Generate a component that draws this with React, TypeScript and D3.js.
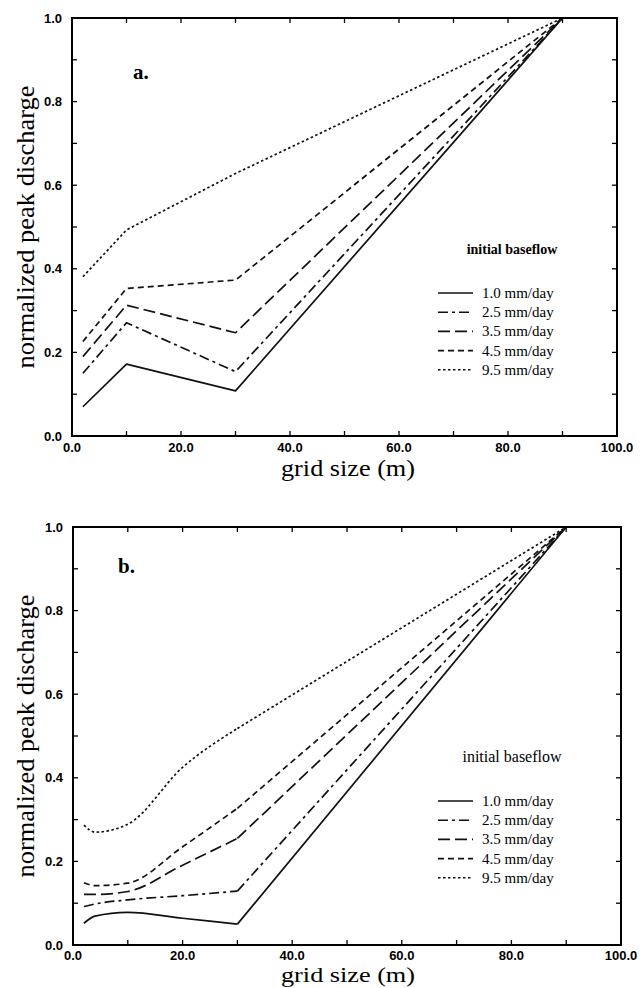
import React from "react";
import * as d3 from "d3";

// ---- data ----
const seriesLabels = ["1.0 mm/day", "2.5 mm/day", "3.5 mm/day", "4.5 mm/day", "9.5 mm/day"];
const xTickLabels = ["0.0", "20.0", "40.0", "60.0", "80.0", "100.0"];
const yTickLabels = ["0.0", "0.2", "0.4", "0.6", "0.8", "1.0"];

// panel a: grid sizes and normalized peak discharge
const gridA = [2, 10, 30, 90, 100];
const a_1_0 = [0.070, 0.172, 0.108, 1.0, 1.0];
const a_2_5 = [0.150, 0.271, 0.154, 1.0, 1.0];
const a_3_5 = [0.190, 0.313, 0.247, 1.0, 1.0];
const a_4_5 = [0.226, 0.353, 0.373, 1.0, 1.0];
const a_9_5 = [0.381, 0.493, 0.628, 1.0, 1.0];

// panel b
const gridB = [2, 4, 10, 20, 30, 90, 100];
const b_1_0 = [0.052, 0.069, 0.078, 0.064, 0.050, 1.0, 1.0];
const b_2_5 = [0.092, 0.098, 0.108, 0.118, 0.129, 1.0, 1.0];
const b_3_5 = [0.121, 0.121, 0.128, 0.191, 0.255, 1.0, 1.0];
const b_4_5 = [0.149, 0.142, 0.148, 0.235, 0.327, 1.0, 1.0];
const b_9_5 = [0.287, 0.270, 0.289, 0.425, 0.518, 1.0, 1.0];

const dashes = ["none", "10,4,3,4", "12,5", "6,4", "2.5,2.5"];

type Panel = {
  label: string;
  x0: number; x1: number; yTop: number; yBot: number;
  xs: number[];
  series: number[][];
  smooth: boolean;
  legendTitleBold: boolean;
  legendTitleY: number;
  legendRowY: number;
  labelX: number; labelY: number;
  xTitleY: number; xTitleSize: number; xTickDy: number;
};

const panels: Panel[] = [
  {
    label: "a.", x0: 72, x1: 617, yTop: 18, yBot: 436,
    xs: gridA, series: [a_1_0, a_2_5, a_3_5, a_4_5, a_9_5], smooth: false,
    legendTitleBold: true, legendTitleY: 254, legendRowY: 293,
    labelX: 133, labelY: 79, xTitleY: 476, xTitleSize: 23, xTickDy: 16,
  },
  {
    label: "b.", x0: 73, x1: 621, yTop: 527, yBot: 945,
    xs: gridB, series: [b_1_0, b_2_5, b_3_5, b_4_5, b_9_5], smooth: true,
    legendTitleBold: false, legendTitleY: 762, legendRowY: 801,
    labelX: 118, labelY: 573, xTitleY: 982, xTitleSize: 21, xTickDy: 15,
  },
];

const sans = "'Liberation Sans', Arial, sans-serif";
const serif = "'Liberation Serif', 'Times New Roman', serif";

function ChartPanel({ p }: { p: Panel }) {
  const x = d3.scaleLinear().domain([0, 100]).range([p.x0, p.x1]);
  const y = d3.scaleLinear().domain([0, 1]).range([p.yBot, p.yTop]);
  const xMinor = d3.range(0, 101, 10);
  const yMinor = d3.range(0, 1.0001, 0.1);
  const tl = 5;

  const paths: { d: string; i: number }[] = [];
  p.series.forEach((vals, i) => {
    const pts: [number, number][] = p.xs.map((xv, k) => [x(xv), y(vals[k])]);
    if (p.smooth) {
      const k30 = p.xs.indexOf(30);
      const smoothPts = pts.slice(0, k30 + 1);
      const linPts = pts.slice(k30);
      const ls = d3.line().curve(d3.curveMonotoneX)(smoothPts) || "";
      const ll = d3.line()(linPts) || "";
      paths.push({ d: ls, i });
      paths.push({ d: ll, i });
    } else {
      paths.push({ d: d3.line()(pts) || "", i });
    }
  });

  const legX0 = 438, legX1 = 473, legTextX = 482, rowGap = 19.2;
  const cy = (p.yTop + p.yBot) / 2;

  return (
    <g>
      {/* data lines */}
      {paths.map((pp, j) => (
        <path key={j} d={pp.d} fill="none" stroke="#111" strokeWidth={1.7}
          strokeDasharray={dashes[pp.i]} strokeLinejoin="round" />
      ))}
      {/* frame */}
      <rect x={p.x0} y={p.yTop} width={p.x1 - p.x0} height={p.yBot - p.yTop}
        fill="none" stroke="#000" strokeWidth={2} />
      {/* ticks */}
      {xMinor.map((v) => (
        <g key={"xt" + v}>
          <line x1={x(v)} x2={x(v)} y1={p.yBot} y2={p.yBot - tl} stroke="#000" strokeWidth={1.3} />
          <line x1={x(v)} x2={x(v)} y1={p.yTop} y2={p.yTop + tl} stroke="#000" strokeWidth={1.3} />
        </g>
      ))}
      {yMinor.map((v, k) => (
        <g key={"yt" + k}>
          <line x1={p.x0} x2={p.x0 + tl} y1={y(v)} y2={y(v)} stroke="#000" strokeWidth={1.3} />
          <line x1={p.x1} x2={p.x1 - tl} y1={y(v)} y2={y(v)} stroke="#000" strokeWidth={1.3} />
        </g>
      ))}
      {/* tick labels */}
      {xTickLabels.map((t, k) => (
        <text key={"xl" + k} x={x(k * 20)} y={p.yBot + p.xTickDy} textAnchor="middle"
          fontFamily={sans} fontWeight="bold" fontSize={13}>{t}</text>
      ))}
      {yTickLabels.map((t, k) => (
        <text key={"yl" + k} x={p.x0 - 10} y={y(k * 0.2) + 4.5} textAnchor="end"
          fontFamily={sans} fontWeight="bold" fontSize={13}>{t}</text>
      ))}
      {/* axis titles */}
      <text x={348} y={p.xTitleY} textAnchor="middle" fontFamily={serif} fontSize={p.xTitleSize}
        textLength={134} lengthAdjust="spacingAndGlyphs">grid size (m)</text>
      <text transform={`translate(34,${cy}) rotate(-90)`} textAnchor="middle" fontFamily={serif}
        fontSize={25} textLength={283} lengthAdjust="spacingAndGlyphs">normalized peak discharge</text>
      {/* panel label */}
      <text x={p.labelX} y={p.labelY} fontFamily={serif} fontWeight="bold" fontSize={21}>{p.label}</text>
      {/* legend */}
      <text x={512} y={p.legendTitleY} textAnchor="middle" fontFamily={serif}
        fontWeight={p.legendTitleBold ? "bold" : "normal"} fontSize={p.legendTitleBold ? 14 : 16}>
        initial baseflow
      </text>
      {seriesLabels.map((s, i) => {
        const ry = p.legendRowY + i * rowGap;
        return (
          <g key={"lg" + i}>
            <line x1={legX0} x2={legX1} y1={ry} y2={ry} stroke="#111" strokeWidth={1.6}
              strokeDasharray={dashes[i]} />
            <text x={legTextX} y={ry + 5} fontFamily={serif} fontSize={15}>{s}</text>
          </g>
        );
      })}
    </g>
  );
}

export default function App() {
  return (
    <svg width={642} height={988} style={{ position: "absolute", left: 0, top: 0, background: "#fff" }}>
      <rect x={0} y={0} width={642} height={988} fill="#fff" />
      {panels.map((p, i) => <ChartPanel key={i} p={p} />)}
    </svg>
  );
}
